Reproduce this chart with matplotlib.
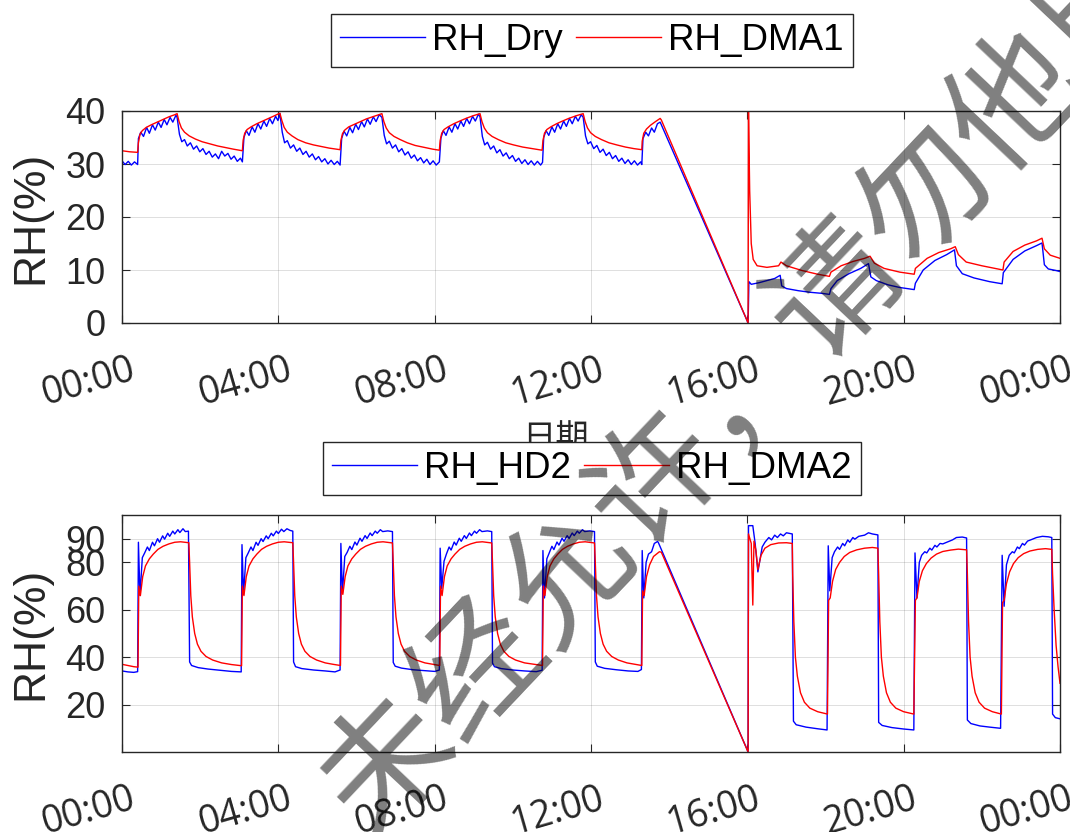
import matplotlib
matplotlib.use("Agg")
import matplotlib.pyplot as plt
import matplotlib.transforms as mtransforms

plt.rcParams['font.family'] = ['Liberation Sans', 'Noto Sans CJK SC', 'DejaVu Sans']

# x in hours since 00:00
tick_hours = [0, 4, 8, 12, 16, 20, 24]
tick_labels = ["00:00", "04:00", "08:00", "12:00", "16:00", "20:00", "00:00"]

# ---- top panel: RH_Dry (blue) ----
dry_pts = [
    (0.00, 30.6), (0.08, 29.9), (0.16, 30.5), (0.24, 29.8), (0.32, 30.4), (0.40, 29.9),
    (0.42, 34.8), (0.48, 36.0), (0.55, 35.2), (0.63, 36.9), (0.70, 35.8), (0.78, 37.4),
    (0.85, 36.4), (0.93, 37.9), (1.00, 36.9), (1.08, 38.4), (1.15, 37.4), (1.23, 38.8),
    (1.30, 37.9), (1.38, 39.2), (1.41, 38.8),
    (1.47, 35.6), (1.53, 34.2), (1.60, 34.6), (1.67, 33.4), (1.75, 34.0), (1.83, 32.8),
    (1.91, 33.4), (1.99, 32.3), (2.07, 32.9), (2.15, 31.8), (2.23, 32.4), (2.31, 31.3),
    (2.39, 31.9), (2.47, 31.0), (2.55, 32.4), (2.63, 31.5), (2.71, 32.0), (2.79, 30.9),
    (2.87, 31.5), (2.95, 30.5), (3.03, 31.1), (3.08, 30.4),
    (3.12, 35.0), (3.18, 36.3), (3.25, 35.4), (3.33, 37.0), (3.40, 36.0), (3.48, 37.6),
    (3.55, 36.6), (3.63, 38.1), (3.70, 37.1), (3.78, 38.6), (3.85, 37.6), (3.93, 39.0),
    (3.99, 38.2), (4.04, 39.5),
    (4.10, 36.0), (4.16, 34.0), (4.23, 34.4), (4.31, 33.0), (4.39, 33.6), (4.47, 32.4),
    (4.55, 33.0), (4.63, 31.8), (4.71, 32.4), (4.79, 31.3), (4.87, 31.9), (4.95, 30.8),
    (5.03, 31.4), (5.11, 30.4), (5.19, 31.0), (5.27, 30.0), (5.35, 30.7), (5.43, 29.9),
    (5.51, 30.5), (5.58, 29.8),
    (5.62, 34.8), (5.68, 36.2), (5.75, 35.3), (5.83, 36.9), (5.90, 35.9), (5.98, 37.5),
    (6.05, 36.5), (6.13, 38.0), (6.20, 37.0), (6.28, 38.5), (6.35, 37.5), (6.43, 38.9),
    (6.50, 38.0), (6.58, 39.3), (6.65, 38.8),
    (6.71, 35.4), (6.77, 33.8), (6.84, 34.3), (6.92, 33.0), (7.00, 33.6), (7.08, 32.3),
    (7.16, 32.9), (7.24, 31.7), (7.32, 32.3), (7.40, 31.1), (7.48, 31.7), (7.56, 30.6),
    (7.64, 31.2), (7.72, 30.2), (7.80, 30.9), (7.88, 29.9), (7.96, 30.6), (8.04, 29.8),
    (8.12, 30.4),
    (8.16, 34.9), (8.22, 36.3), (8.29, 35.4), (8.37, 37.0), (8.44, 36.0), (8.52, 37.6),
    (8.59, 36.6), (8.67, 38.1), (8.74, 37.1), (8.82, 38.6), (8.89, 37.6), (8.97, 39.0),
    (9.04, 38.1), (9.12, 39.4), (9.16, 38.9),
    (9.22, 35.2), (9.28, 33.6), (9.35, 34.1), (9.43, 32.8), (9.51, 33.4), (9.59, 32.1),
    (9.67, 32.7), (9.75, 31.5), (9.83, 32.1), (9.91, 31.0), (9.99, 31.6), (10.07, 30.5),
    (10.15, 31.1), (10.23, 30.1), (10.31, 30.8), (10.39, 29.9), (10.47, 30.6), (10.55, 29.8),
    (10.63, 30.5), (10.71, 29.8), (10.76, 30.3),
    (10.79, 35.0), (10.85, 36.3), (10.92, 35.4), (11.00, 37.0), (11.07, 36.0), (11.15, 37.6),
    (11.22, 36.6), (11.30, 38.1), (11.37, 37.1), (11.45, 38.6), (11.52, 37.6), (11.60, 39.0),
    (11.67, 38.1), (11.75, 39.3), (11.80, 38.8),
    (11.86, 35.3), (11.92, 33.8), (11.99, 34.2), (12.07, 32.9), (12.15, 33.5), (12.23, 32.2),
    (12.31, 32.8), (12.39, 31.6), (12.47, 32.2), (12.55, 31.0), (12.63, 31.6), (12.71, 30.5),
    (12.79, 31.1), (12.87, 30.1), (12.95, 30.8), (13.03, 29.9), (13.11, 30.6), (13.19, 29.8),
    (13.27, 30.4), (13.30, 29.9),
    (13.33, 34.8), (13.40, 36.0), (13.47, 35.3), (13.55, 36.8), (13.62, 36.0), (13.70, 37.6),
    (13.77, 37.9), (16.02, 0.0),
    (16.04, 7.8), (16.10, 7.3), (16.30, 7.6), (16.50, 8.0), (16.70, 8.4), (16.84, 9.0),
    (16.88, 7.0), (17.00, 6.5), (17.30, 6.1), (17.60, 5.8), (17.90, 5.6), (18.10, 5.4),
    (18.14, 6.5), (18.30, 8.0), (18.60, 9.3), (18.90, 10.3), (19.10, 11.2),
    (19.16, 8.7), (19.30, 8.0), (19.60, 7.2), (19.90, 6.7), (20.27, 6.3),
    (20.30, 7.5), (20.50, 10.0), (20.80, 11.8), (21.10, 12.9), (21.30, 13.8),
    (21.35, 10.8), (21.50, 9.3), (21.80, 8.5), (22.20, 7.8), (22.52, 7.4),
    (22.55, 9.5), (22.80, 12.0), (23.10, 13.6), (23.40, 14.6), (23.54, 15.1),
    (23.60, 11.0), (23.70, 10.2), (23.90, 9.9), (24.00, 9.7),
]

# ---- top panel: RH_DMA1 (red) ----
dma1_pts = [
    (0.00, 32.5), (0.20, 32.3), (0.40, 32.2), (0.42, 34.0), (0.46, 35.6), (0.52, 36.3),
    (0.62, 36.9), (0.75, 37.4), (0.90, 37.9), (1.05, 38.4), (1.20, 38.9), (1.35, 39.3),
    (1.41, 39.5), (1.46, 38.0), (1.52, 36.8), (1.60, 36.0), (1.72, 35.3), (1.88, 34.7),
    (2.05, 34.2), (2.25, 33.8), (2.45, 33.4), (2.65, 33.1), (2.85, 32.8), (3.08, 32.5),
    (3.10, 34.5), (3.14, 35.8), (3.20, 36.5), (3.30, 37.0), (3.45, 37.6), (3.60, 38.1),
    (3.75, 38.6), (3.90, 39.1), (4.04, 39.6), (4.09, 38.2), (4.15, 36.9), (4.23, 36.0),
    (4.35, 35.3), (4.50, 34.6), (4.70, 34.0), (4.90, 33.6), (5.10, 33.3), (5.30, 33.0),
    (5.58, 32.7),
    (5.60, 34.4), (5.64, 35.7), (5.70, 36.4), (5.80, 37.0), (5.95, 37.5), (6.10, 38.0),
    (6.25, 38.5), (6.45, 39.0), (6.65, 39.5), (6.70, 38.0), (6.76, 36.8), (6.84, 35.9),
    (6.96, 35.2), (7.12, 34.6), (7.30, 34.0), (7.50, 33.5), (7.75, 33.1), (7.95, 32.8),
    (8.12, 32.6),
    (8.14, 34.4), (8.18, 35.8), (8.24, 36.5), (8.34, 37.0), (8.49, 37.6), (8.64, 38.1),
    (8.80, 38.6), (8.98, 39.1), (9.16, 39.5), (9.21, 38.0), (9.27, 36.8), (9.35, 35.9),
    (9.47, 35.2), (9.63, 34.6), (9.82, 34.0), (10.02, 33.6), (10.25, 33.2), (10.50, 32.9),
    (10.75, 32.6),
    (10.77, 34.4), (10.81, 35.8), (10.87, 36.5), (10.97, 37.0), (11.12, 37.6), (11.27, 38.1),
    (11.43, 38.6), (11.62, 39.1), (11.80, 39.5), (11.85, 38.0), (11.91, 36.8), (11.99, 35.9),
    (12.11, 35.2), (12.27, 34.6), (12.46, 34.0), (12.66, 33.6), (12.88, 33.2), (13.10, 32.9),
    (13.30, 32.7),
    (13.31, 34.3), (13.35, 35.8), (13.42, 36.6), (13.52, 37.3), (13.65, 38.0), (13.77, 38.6),
    (13.80, 38.3), (16.02, 0.0),
    (16.03, 40.0), (16.06, 25.0), (16.10, 15.0), (16.15, 12.0), (16.25, 10.8), (16.50, 10.5),
    (16.80, 10.8), (16.86, 11.5), (17.00, 10.8), (17.40, 9.9), (17.80, 9.2), (18.10, 8.8),
    (18.14, 9.6), (18.40, 10.8), (18.70, 11.6), (19.00, 12.2), (19.14, 12.6),
    (19.25, 11.3), (19.50, 10.3), (19.90, 9.6), (20.27, 9.2),
    (20.30, 10.3), (20.60, 12.2), (20.90, 13.3), (21.20, 14.0), (21.32, 14.4),
    (21.40, 12.9), (21.60, 11.5), (22.00, 10.8), (22.54, 10.0),
    (22.57, 11.5), (22.80, 13.5), (23.10, 14.7), (23.40, 15.5), (23.54, 16.0),
    (23.60, 14.0), (23.75, 12.8), (24.00, 12.2),
]

# ---- bottom panel: RH_HD2 (blue) ----
hd2_pts = [
    (0.00, 34.2), (0.15, 33.8), (0.30, 33.6), (0.40, 33.9),
    (0.42, 88.5), (0.46, 66.0), (0.52, 82.0), (0.58, 84.0), (0.65, 86.5), (0.70, 85.0),
    (0.78, 88.5), (0.83, 87.0), (0.91, 90.0), (0.96, 88.5), (1.04, 91.2), (1.09, 89.8),
    (1.17, 92.3), (1.22, 91.0), (1.30, 93.2), (1.35, 92.0), (1.43, 93.8), (1.48, 92.6),
    (1.56, 94.2), (1.62, 93.0), (1.70, 93.2),
    (1.73, 38.0), (1.78, 36.5), (1.95, 35.6), (2.20, 35.0), (2.50, 34.5), (2.80, 34.0),
    (3.05, 33.8),
    (3.07, 87.5), (3.11, 66.5), (3.17, 82.0), (3.23, 84.0), (3.30, 86.5), (3.35, 85.0),
    (3.43, 88.5), (3.48, 87.2), (3.56, 90.0), (3.61, 88.8), (3.69, 91.2), (3.74, 90.0),
    (3.82, 92.3), (3.87, 91.2), (3.95, 93.2), (4.00, 92.2), (4.08, 94.0), (4.14, 93.0),
    (4.22, 94.2), (4.30, 93.5), (4.37, 93.2),
    (4.39, 38.0), (4.44, 36.0), (4.60, 35.2), (4.90, 34.6), (5.20, 34.2), (5.45, 33.8),
    (5.58, 34.6),
    (5.60, 88.0), (5.64, 67.0), (5.70, 82.5), (5.76, 84.2), (5.83, 86.8), (5.88, 85.4),
    (5.96, 88.6), (6.01, 87.3), (6.09, 90.2), (6.14, 88.9), (6.22, 91.3), (6.27, 90.1),
    (6.35, 92.4), (6.40, 91.3), (6.48, 93.2), (6.53, 92.3), (6.61, 93.8), (6.67, 93.0),
    (6.80, 93.3), (6.92, 93.0),
    (6.94, 37.8), (6.99, 36.2), (7.15, 35.4), (7.45, 34.7), (7.75, 34.3), (8.00, 34.0),
    (8.12, 34.6),
    (8.14, 86.0), (8.18, 69.0), (8.24, 80.5), (8.30, 83.5), (8.37, 86.5), (8.42, 85.2),
    (8.50, 88.6), (8.55, 87.3), (8.63, 90.2), (8.68, 88.9), (8.76, 91.3), (8.81, 90.1),
    (8.89, 92.4), (8.94, 91.3), (9.02, 93.2), (9.07, 92.3), (9.15, 93.8), (9.21, 93.0),
    (9.35, 93.3), (9.46, 93.0),
    (9.48, 37.5), (9.53, 36.0), (9.70, 35.2), (10.00, 34.6), (10.30, 34.2), (10.60, 33.9),
    (10.75, 34.5),
    (10.77, 85.0), (10.81, 65.0), (10.87, 81.5), (10.93, 84.0), (11.00, 86.8), (11.05, 85.4),
    (11.13, 88.6), (11.18, 87.3), (11.26, 90.2), (11.31, 88.9), (11.39, 91.3), (11.44, 90.1),
    (11.52, 92.4), (11.57, 91.3), (11.65, 93.2), (11.70, 92.3), (11.78, 93.8), (11.84, 93.0),
    (11.97, 93.3), (12.09, 93.0),
    (12.11, 38.0), (12.16, 36.2), (12.35, 35.3), (12.65, 34.7), (12.95, 34.2), (13.20, 34.0),
    (13.29, 34.8),
    (13.31, 85.0), (13.35, 65.0), (13.41, 80.0), (13.47, 83.5), (13.55, 84.5), (13.62, 88.0),
    (13.70, 88.8), (13.72, 88.5), (16.02, 0.0),
    (16.03, 95.5), (16.14, 95.5), (16.20, 88.0), (16.27, 76.0), (16.38, 86.5), (16.45, 88.5),
    (16.55, 90.5), (16.62, 89.5), (16.70, 91.5), (16.77, 90.5), (16.85, 92.0), (16.92, 91.2),
    (17.00, 92.5), (17.15, 92.0),
    (17.18, 13.0), (17.25, 11.5), (17.50, 10.5), (17.80, 9.8), (18.04, 9.3),
    (18.07, 87.0), (18.11, 68.0), (18.17, 82.0), (18.23, 84.5), (18.31, 86.5), (18.36, 85.5),
    (18.44, 88.0), (18.49, 87.0), (18.57, 89.5), (18.62, 88.5), (18.70, 90.5), (18.75, 89.8),
    (18.85, 91.0), (19.00, 91.5), (19.10, 92.5), (19.20, 92.0), (19.34, 91.6),
    (19.36, 12.5), (19.45, 11.2), (19.70, 10.3), (20.00, 9.7), (20.26, 9.3),
    (20.29, 84.0), (20.34, 65.0), (20.40, 80.0), (20.46, 83.0), (20.54, 84.5), (20.59, 84.0),
    (20.67, 86.0), (20.72, 85.2), (20.80, 87.2), (20.85, 86.5), (20.93, 88.0), (21.00, 87.8),
    (21.10, 88.5), (21.25, 89.5), (21.35, 90.5), (21.50, 90.7), (21.61, 90.3),
    (21.63, 13.5), (21.72, 12.0), (21.95, 11.0), (22.20, 10.5), (22.48, 10.0),
    (22.52, 83.0), (22.57, 61.5), (22.63, 79.0), (22.70, 83.0), (22.78, 84.5), (22.83, 84.0),
    (22.91, 86.5), (22.96, 85.8), (23.04, 88.0), (23.09, 87.3), (23.17, 89.0), (23.25, 89.5),
    (23.40, 90.5), (23.55, 91.0), (23.70, 90.8), (23.79, 90.5),
    (23.81, 16.0), (23.88, 14.5), (24.00, 14.0),
]

# ---- bottom panel: RH_DMA2 (red) ----
dma2_pts = [
    (0.00, 37.0), (0.15, 36.5), (0.30, 36.0), (0.41, 35.8),
    (0.43, 70.0), (0.47, 66.0), (0.53, 74.0), (0.60, 78.5), (0.70, 81.5), (0.80, 83.5),
    (0.92, 85.5), (1.05, 86.8), (1.20, 87.8), (1.35, 88.5), (1.50, 88.7), (1.71, 88.3),
    (1.73, 80.0), (1.76, 66.0), (1.80, 57.0), (1.86, 50.0), (1.93, 45.5), (2.02, 42.5),
    (2.15, 40.3), (2.32, 38.8), (2.55, 37.6), (2.80, 36.9), (3.06, 36.4),
    (3.08, 70.0), (3.12, 66.0), (3.18, 74.0), (3.25, 78.5), (3.35, 81.5), (3.45, 83.5),
    (3.57, 85.5), (3.70, 86.8), (3.85, 87.8), (4.00, 88.5), (4.15, 88.7), (4.37, 88.3),
    (4.39, 80.0), (4.42, 66.0), (4.46, 57.0), (4.52, 50.0), (4.59, 45.5), (4.68, 42.5),
    (4.81, 40.3), (4.98, 38.8), (5.20, 37.6), (5.40, 37.0), (5.59, 36.5),
    (5.61, 70.0), (5.65, 66.5), (5.71, 74.0), (5.78, 78.5), (5.88, 81.5), (5.98, 83.5),
    (6.10, 85.5), (6.23, 86.8), (6.38, 87.8), (6.53, 88.5), (6.68, 88.7), (6.92, 88.2),
    (6.94, 80.0), (6.97, 66.0), (7.01, 57.0), (7.07, 50.0), (7.14, 45.5), (7.23, 42.5),
    (7.36, 40.3), (7.53, 38.8), (7.75, 37.6), (7.95, 37.0), (8.13, 36.5),
    (8.15, 70.0), (8.19, 66.0), (8.25, 74.0), (8.32, 78.5), (8.42, 81.5), (8.52, 83.5),
    (8.64, 85.5), (8.77, 86.8), (8.92, 87.8), (9.07, 88.5), (9.22, 88.7), (9.46, 88.2),
    (9.48, 80.0), (9.51, 66.0), (9.55, 57.0), (9.61, 50.0), (9.68, 45.5), (9.77, 42.5),
    (9.90, 40.3), (10.07, 38.8), (10.30, 37.6), (10.55, 37.0), (10.76, 36.5),
    (10.78, 70.0), (10.82, 66.0), (10.88, 74.0), (10.95, 78.5), (11.05, 81.5), (11.15, 83.5),
    (11.27, 85.5), (11.40, 86.8), (11.55, 87.8), (11.70, 88.5), (11.85, 88.7), (12.09, 88.2),
    (12.11, 80.0), (12.14, 66.0), (12.18, 57.0), (12.24, 50.0), (12.31, 45.5), (12.40, 42.5),
    (12.53, 40.3), (12.70, 38.8), (12.92, 37.6), (13.12, 37.0), (13.30, 36.5),
    (13.32, 68.0), (13.36, 66.0), (13.42, 74.0), (13.50, 79.0), (13.60, 82.5), (13.75, 84.5),
    (13.80, 84.3), (16.02, 0.0),
    (16.03, 92.0), (16.10, 88.0), (16.14, 62.0), (16.17, 89.0), (16.22, 85.0), (16.27, 77.0),
    (16.35, 83.0), (16.45, 86.0), (16.60, 87.5), (16.80, 88.2), (17.00, 88.3), (17.15, 88.0),
    (17.16, 75.0), (17.19, 55.0), (17.23, 40.0), (17.28, 32.0), (17.36, 25.0), (17.46, 21.0),
    (17.60, 18.5), (17.80, 17.0), (18.05, 16.0),
    (18.08, 64.0), (18.12, 65.0), (18.18, 72.0), (18.26, 77.0), (18.36, 80.0), (18.48, 82.5),
    (18.62, 84.2), (18.80, 85.3), (19.00, 86.0), (19.20, 86.3), (19.34, 86.0),
    (19.36, 75.0), (19.39, 55.0), (19.43, 40.0), (19.48, 32.0), (19.56, 25.0), (19.66, 21.0),
    (19.80, 18.5), (20.00, 17.0), (20.26, 16.0),
    (20.30, 64.0), (20.34, 65.0), (20.40, 72.0), (20.48, 76.5), (20.58, 79.5), (20.70, 81.8),
    (20.84, 83.5), (21.00, 84.6), (21.20, 85.2), (21.40, 85.6), (21.61, 85.3),
    (21.63, 75.0), (21.66, 55.0), (21.70, 40.0), (21.75, 32.0), (21.83, 25.0), (21.93, 21.0),
    (22.07, 18.5), (22.27, 17.0), (22.50, 16.0),
    (22.53, 63.0), (22.57, 64.0), (22.63, 71.0), (22.71, 76.0), (22.81, 79.5), (22.93, 82.0),
    (23.07, 83.7), (23.23, 84.8), (23.43, 85.5), (23.63, 85.8), (23.79, 85.5),
    (23.81, 75.0), (23.85, 60.0), (23.90, 45.0), (23.95, 36.0), (24.00, 29.0),
]

DARK = "#262626"
W, H = 1070, 832


def style_axes(ax, ylim, yticks):
    ax.set_xlim(0, 24)
    ax.set_ylim(*ylim)
    ax.set_yticks(yticks)
    ax.set_xticks(tick_hours)
    ax.set_xticklabels(tick_labels, rotation=16, ha="right", va="top",
                       rotation_mode="anchor", fontfamily="Open Sans", fontsize=27)
    ax.tick_params(axis="both", direction="in", length=6, width=0.8, color=DARK,
                   top=True, right=True, labelcolor=DARK)
    ax.tick_params(axis="y", labelsize=26, pad=12)
    ax.tick_params(axis="x", pad=20)
    ax.grid(True, color=DARK, alpha=0.15, linewidth=0.7)
    for sp in ax.spines.values():
        sp.set_color(DARK)
        sp.set_linewidth(1.0)
    ax.set_ylabel("RH(%)", fontsize=32, color=DARK, labelpad=10)
    offset = mtransforms.ScaledTranslation(0.07, 0, ax.figure.dpi_scale_trans)
    for lab in ax.get_xticklabels():
        lab.set_transform(lab.get_transform() + offset)


fig = plt.figure(figsize=(W / 100, H / 100), dpi=100)
fig.patch.set_facecolor("white")

ax1 = fig.add_axes([122 / W, 1 - 323 / H, 938 / W, 212 / H])
ax2 = fig.add_axes([122 / W, 1 - 752 / H, 938 / W, 237 / H])

t, v = zip(*dry_pts)
l1, = ax1.plot(t, v, color="#0000ff", lw=1.0)
t, v = zip(*dma1_pts)
l2, = ax1.plot(t, v, color="#ff0000", lw=1.0)
style_axes(ax1, (0, 40), [0, 10, 20, 30, 40])
ax1.set_xlabel("日期", fontsize=24, fontfamily="Noto Sans CJK SC", color=DARK)
ax1.xaxis.set_label_coords((556 - 122) / 938, -(422 - 323) / 212)
ax1.xaxis.label.set_va("top")

t, v = zip(*hd2_pts)
l3, = ax2.plot(t, v, color="#0000ff", lw=1.0)
t, v = zip(*dma2_pts)
l4, = ax2.plot(t, v, color="#ff0000", lw=1.0)
style_axes(ax2, (0, 100), [20, 40, 60, 80, 90])
ax2.set_xlabel("日期", fontsize=24, fontfamily="Noto Sans CJK SC", color=DARK)
ax2.xaxis.set_label_coords((556 - 122) / 938, -(422 - 323) / 237)
ax2.xaxis.label.set_va("top")

leg_kw = dict(loc="center", ncol=2, fontsize=26.5, frameon=True, fancybox=False,
              edgecolor=DARK, framealpha=1, handlelength=2.3, handletextpad=0.2,
              columnspacing=0.35, borderpad=0.25, borderaxespad=0,
              bbox_transform=fig.transFigure)
leg1 = ax1.legend([l1, l2], ["RH_Dry", "RH_DMA1"],
                  bbox_to_anchor=(592 / W, 1 - 40.5 / H), **leg_kw)
leg2 = ax2.legend([l3, l4], ["RH_HD2", "RH_DMA2"],
                  bbox_to_anchor=(592 / W, 1 - 468.5 / H), **leg_kw)
for leg in (leg1, leg2):
    leg.get_frame().set_linewidth(1.0)

# watermark
fig.text(748 / W, 1 - 386 / H, "未经允许，请勿他用", rotation=46.6,
         fontsize=94, fontfamily="Noto Sans CJK SC",
         color="black", alpha=0.5,
         ha="center", va="center", rotation_mode="anchor", zorder=10)

fig.savefig("out.png", dpi=100, facecolor="white")
